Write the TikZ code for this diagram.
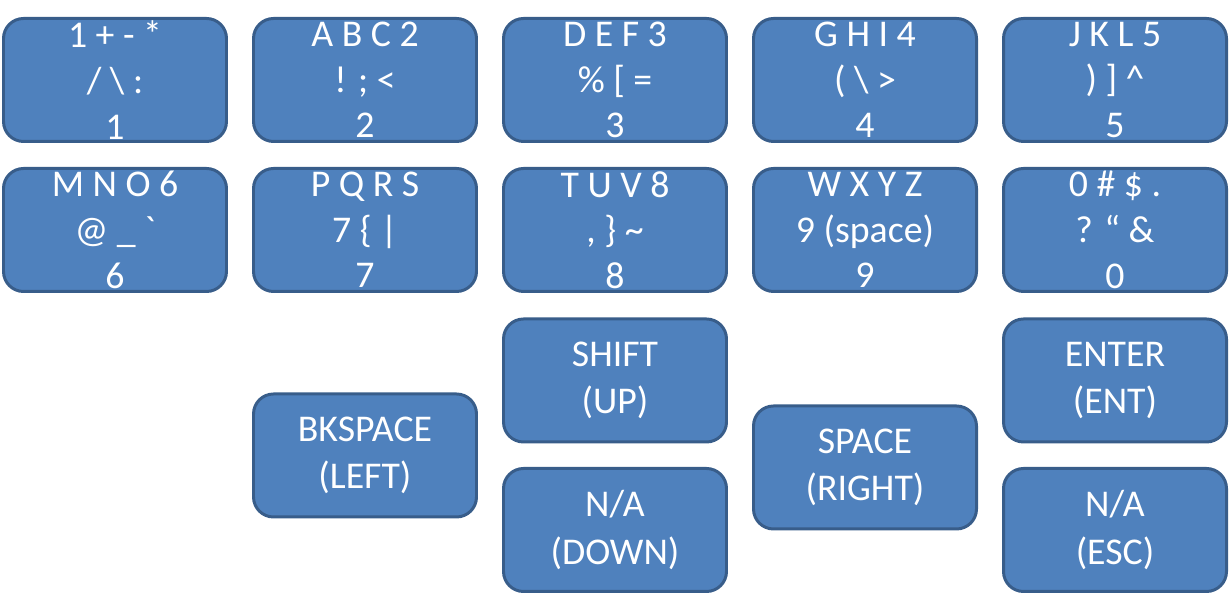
\documentclass[tikz,border=0pt]{standalone}
\usepackage{fontspec}
\setmainfont{Carlito}
\usepackage{xcolor}
\definecolor{keyfill}{HTML}{4F81BD}
\definecolor{keyline}{HTML}{385D8A}
\usepackage{tikz}
\usetikzlibrary{positioning}

\begin{document}
\begin{tikzpicture}

  % Picture frame
  \useasboundingbox (0,0) rectangle (24.58,11.96);

  \tikzset{
    keybox/.style={draw=keyline, fill=keyfill, line width=1.7pt,
      rounded corners=0.4cm, minimum width=4.46cm, minimum height=2.46cm,
      inner sep=0pt, align=center, text=white,
      font=\fontsize{21.5}{26}\selectfont}
  }

  % Row 1
  \node[keybox] (k1) at (2.3, 10.36) {1 + - *\\/ \textbackslash{} :\\1};
  \node[keybox] (k2) at (7.3, 10.36) {A B C 2\\! ; <\\2};
  \node[keybox] (k3) at (12.3, 10.36) {D E F 3\\\% [ =\\3};
  \node[keybox] (k4) at (17.3, 10.36) {G H I 4\\( \textbackslash{} >\\4};
  \node[keybox] (k5) at (22.3, 10.36) {J K L 5\\) ] \textasciicircum\\5};

  % Row 2
  \node[keybox] (k6) at (2.3, 7.36) {M N O 6\\@ \_ \textasciigrave\\6};
  \node[keybox] (k7) at (7.3, 7.36) {P Q R S\\7 \{ |\\7};
  \node[keybox] (k8) at (12.3, 7.36) {T U V 8\\, \} \textasciitilde\\8};
  \node[keybox] (k9) at (17.3, 7.36) {W X Y Z\\9 (space)\\9};
  \node[keybox] (k0) at (22.3, 7.36) {0 \# \$ .\\? “ \&\\0};

  % Function keys
  \node[keybox, font=\fontsize{21.5}{27}\selectfont] (bkspace) at (7.3, 2.85) {BKSPACE\\(LEFT)};
  \node[keybox, font=\fontsize{21.5}{27}\selectfont] (shift) at (12.3, 4.35) {SHIFT\\(UP)};
  \node[keybox, font=\fontsize{21.5}{27}\selectfont] (down) at (12.3, 1.36) {N/A\\(DOWN)};
  \node[keybox, font=\fontsize{21.5}{27}\selectfont] (space) at (17.3, 2.61) {SPACE\\(RIGHT)};
  \node[keybox, font=\fontsize{21.5}{27}\selectfont] (enter) at (22.3, 4.35) {ENTER\\(ENT)};
  \node[keybox, font=\fontsize{21.5}{27}\selectfont] (esc) at (22.3, 1.36) {N/A\\(ESC)};

\end{tikzpicture}
\end{document}
